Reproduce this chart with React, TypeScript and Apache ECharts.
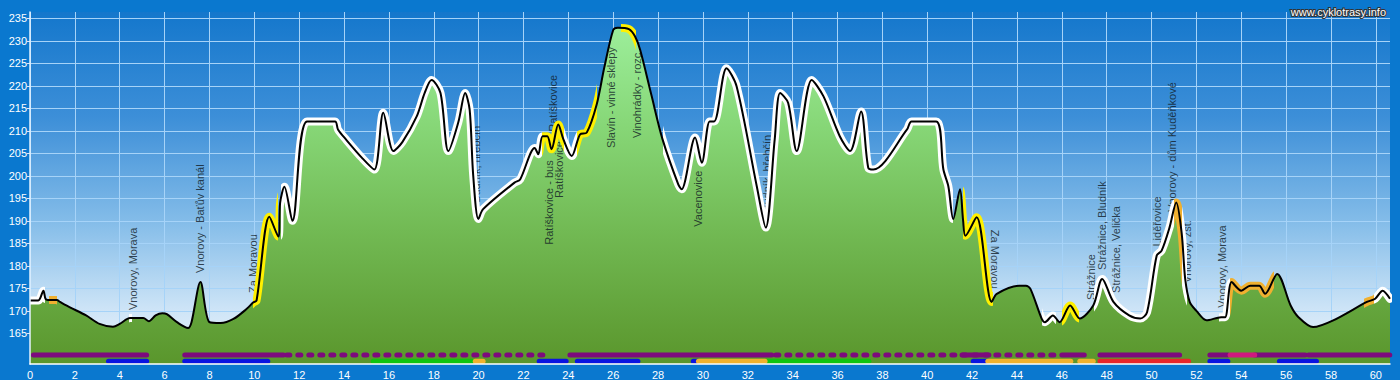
import React, { useEffect, useRef } from 'react';
import * as echarts from 'echarts';

// ---- profile (distance km, altitude m) ----
const profileKm = [
  0, 0.37, 0.6, 0.7, 0.9, 1.2, 1.34, 1.78, 2.5, 3.1, 3.7, 4.0, 4.46, 5.05, 5.3, 5.6, 5.9, 6.1, 6.55, 7.05,
  7.2, 7.6, 8.0, 8.5, 9.07, 9.65, 9.96, 10.1, 10.67, 11.07, 11.15, 11.34, 11.7, 12.35, 13.6, 13.73, 14.1, 14.8, 15.35, 15.75,
  16.2, 16.6, 17.24, 17.6, 17.9, 18.3, 18.65, 19.1, 19.4, 19.6, 19.76, 19.99, 20.2, 21.6, 21.85, 22.5, 22.66, 22.85, 23.06, 23.25,
  23.55, 23.78, 24.15, 24.52, 24.82, 25.26, 25.6, 26.0, 26.2, 26.7, 26.97, 27.2, 27.7, 28.2, 28.9, 29.05, 29.65, 29.95, 30.3, 30.5,
  31.05, 31.5, 32.4, 32.8, 33.2, 33.44, 33.8, 34.18, 34.85, 35.37, 36.1, 36.56, 37.05, 37.37, 37.6, 39.1, 39.3, 40.4, 40.72, 40.94,
  41.16, 41.46, 41.6, 41.7, 42.2, 42.87, 43.1, 44.1, 44.4, 44.6, 45.1, 45.25, 45.6, 45.9, 46.37, 46.8, 47.4, 47.8, 48.3, 49.0,
  49.5, 49.8, 50.23, 50.45, 50.8, 51.1, 51.34, 51.5, 51.7, 52.0, 52.45, 53.1, 53.28, 53.57, 54.0, 54.4, 54.8, 55.06, 55.6, 56.2,
  56.55, 57.2, 58.1, 59.6, 59.97, 60.3, 60.63,
];
const profileAlt = [
  172.3, 172.3, 174.5, 172.6, 172.4, 172.4, 172.0, 170.8, 169.0, 167.1, 166.5, 167.1, 168.4, 168.4, 167.7, 169.0, 169.5, 169.3, 167.5, 166.2,
  167.5, 176.4, 167.5, 167.3, 168.2, 170.4, 171.9, 172.3, 190.9, 186.5, 194.0, 197.6, 190.0, 212.1, 212.1, 210.3, 208.0, 204.0, 201.4, 214.0,
  205.5, 207.5, 213.2, 218.5, 221.3, 218.4, 205.5, 212.0, 218.4, 214.7, 200.0, 190.4, 192.6, 198.5, 199.2, 206.2, 204.8, 208.8, 208.8, 205.9,
  211.4, 208.1, 204.4, 209.2, 209.6, 215.8, 224.0, 232.4, 232.9, 232.6, 231.0, 228.0, 218.0, 208.1, 198.1, 197.0, 208.5, 202.9, 212.1, 212.1,
  223.9, 219.9, 197.7, 188.5, 208.1, 218.4, 216.2, 205.5, 221.3, 217.7, 208.8, 205.5, 214.3, 201.8, 201.4, 210.3, 212.1, 212.1, 201.4, 197.7,
  190.4, 197.0, 190.0, 186.7, 190.8, 172.0, 173.8, 175.6, 175.6, 174.9, 168.3, 167.5, 169.0, 167.5, 171.2, 168.3, 171.2, 177.1, 172.0, 169.0,
  168.3, 169.7, 182.3, 183.4, 188.5, 194.1, 187.4, 177.1, 172.0, 170.0, 167.9, 168.6, 168.6, 176.4, 174.5, 175.6, 175.6, 173.8, 178.2, 171.2,
  168.6, 166.4, 167.9, 172.0, 172.7, 174.5, 172.7,
];

// ---- axis ticks ----
const yTicks = [165, 170, 175, 180, 185, 190, 195, 200, 205, 210, 215, 220, 225, 230, 235];
const xTicks = [0, 2, 4, 6, 8, 10, 12, 14, 16, 18, 20, 22, 24, 26, 28, 30, 32, 34, 36, 38, 40, 42, 44, 46, 48, 50, 52, 54, 56, 58, 60];

// ---- highlighted stretches of the profile (km from, km to) ----
const whiteStretches = [[0, 0.68], [4.4, 4.56], [11.2, 22.83], [23.8, 24.4], [28.2, 41.16], [45.12, 45.75], [47.42, 51.0], [51.35, 51.56], [53.0, 53.5], [59.9, 60.7]];
const yellowStretches = [[9.95, 11.07], [22.83, 23.8], [24.4, 25.3], [26.35, 27.0], [41.6, 42.95], [46.0, 46.78]];
const orangeStretches = [[0.86, 1.22], [51.0, 51.35], [53.5, 55.45], [59.45, 59.9]];

// ---- waypoints ----
const waypointKm = [4.6, 7.58, 9.92, 19.9, 23.15, 23.6, 23.3, 25.9, 27.06, 29.8, 32.85, 43.0, 47.3, 47.8, 48.4, 50.25, 50.9, 51.6, 53.15];
const waypointNames = [
  'Vnorovy, Morava', 'Vnorovy - Baťův kanál', 'Za Moravou', 'Budník, hřebčín', 'Ratíškovice - bus', 'Ratíškovice', 'Ratíškovice',
  'Slavín - vinné sklepy', 'Vinohrádky - rozc', 'Vacenovice', 'Budník, hřebčín', 'Za Moravou', 'Strážnice', 'Strážnice, Bludník',
  'Strážnice, Velička', 'Liděřovice', 'Vnorovy - dům Kuděňkové', 'Vnorovy, zšt.', 'Vnorovy, Morava',
];

// ---- route type bars (km from, km to) ----
const purpleBars = [[0.15, 5.2], [6.9, 11.3], [24.07, 33.07], [41.55, 42.75], [46.0, 47.0], [47.7, 51.25], [52.6, 53.4], [54.6, 56.85], [57.0, 60.62]];
const purpleDotted = [[11.45, 23.0], [33.25, 45.85]];
const magentaBars = [[53.5, 54.6]];
const blueBars = [[3.5, 5.2], [6.9, 10.6], [22.7, 23.9], [24.4, 27.1], [29.57, 29.8], [42.05, 42.7], [52.6, 53.4], [55.7, 57.35]];
const greenBars = [[15.3, 19.7], [32.8, 37.4]];
const orangeBars = [[19.85, 20.2], [29.8, 32.77], [42.7, 46.4], [46.8, 47.4]];
const redBars = [[47.7, 51.65]];

// ---- layout (label anchors / rotations, bar rows) ----
const waypointAnchor = [170.2, 178.4, 174.0, 194.0, 184.7, 195.1, 209.8, 206.2, 208.4, 188.7, 192.0, 188.0, 172.4, 179.1, 174.0, 184.3, 192.0, 176.2, 170.7];
const waypointRotate = [90, 90, 90, 90, 90, 90, 90, 90, 90, 90, 90, -90, 90, 90, 90, 90, 90, 90, 90];
const ROW1 = 160.2;
const ROW2 = 158.8;
const Y_MIN = 158.2;
const Y_MAX = 236.4;
const X_MAX = 60.63;

const FONT = 'Arial, "Liberation Sans", sans-serif';
const barColors = ['#7d0a7d', '#d0187e', '#0a14e0', '#10c410', '#f0b22e', '#e8262a'];

export default function App() {
  const ref = useRef<HTMLDivElement>(null);

  useEffect(() => {
    document.body.style.margin = '0';
    const chart = echarts.init(ref.current!, null, { renderer: 'svg' });

    const profile = profileKm.map((k, i) => [k, profileAlt[i]]);

    const pieces: any[] = [];
    whiteStretches.forEach(([s, e]) => pieces.push({ gte: s, lt: e, color: '#ffffff' }));
    yellowStretches.forEach(([s, e]) => pieces.push({ gte: s, lt: e, color: '#fff000' }));
    orangeStretches.forEach(([s, e]) => pieces.push({ gte: s, lt: e, color: '#f0b030' }));
    pieces.sort((a, b) => a.gte - b.gte);

    const barItems: number[][] = [];
    const add = (list: number[][], row: number, c: number, dotted: number) =>
      list.forEach(([s, e]) => barItems.push([s, e, row, c, dotted]));
    add(purpleDotted, ROW1, 0, 1);
    add(purpleBars, ROW1, 0, 0);
    add(magentaBars, ROW1, 1, 0);
    add(blueBars, ROW2, 2, 0);
    add(greenBars, ROW2, 3, 0);
    add(orangeBars, ROW2, 4, 0);
    add(redBars, ROW2, 5, 0);

    const labelData = waypointKm.map((k, i) => ({
      value: [k, waypointAnchor[i]],
      name: waypointNames[i],
      label: { rotate: waypointRotate[i] },
    }));

    const gridBg = new echarts.graphic.LinearGradient(0, 0, 0, 1, [
      { offset: 0, color: '#1477cc' },
      { offset: 0.3, color: '#3d8fd8' },
      { offset: 0.6, color: '#85bde9' },
      { offset: 0.85, color: '#cfe5f7' },
      { offset: 1, color: '#eef6fd' },
    ]);
    const greenFill = new echarts.graphic.LinearGradient(0, 0, 0, 1, [
      { offset: 0, color: '#9cee9a' },
      { offset: 0.3, color: '#86d676' },
      { offset: 0.6, color: '#72ba54' },
      { offset: 1, color: '#5a962c' },
    ]);

    const option: any = {
      animation: false,
      backgroundColor: '#0a78cf',
      title: {
        text: 'www.cyklotrasy.info',
        right: 7,
        top: 1,
        textStyle: { color: '#ffffff', fontSize: 11, fontWeight: 'normal', fontFamily: FONT, textBorderColor: '#333', textBorderWidth: 2 },
      },
      grid: { left: 30, right: 10, top: 12, bottom: 16, show: true, borderWidth: 0, backgroundColor: gridBg },
      xAxis: [
        {
          type: 'value', min: 0, max: X_MAX,
          axisLine: { show: false },
          axisTick: { show: false, customValues: xTicks },
          axisLabel: { customValues: xTicks, color: '#ffffff', fontSize: 11, fontFamily: FONT, margin: 5 },
          splitLine: { show: true, lineStyle: { color: '#a6d3f8', width: 1 } },
        },
        {
          type: 'value', min: 0, max: X_MAX, position: 'bottom', z: 20,
          axisLine: { show: true, lineStyle: { color: '#ffffff', width: 1.5 } },
          axisTick: { show: false }, axisLabel: { show: false }, splitLine: { show: false },
        },
      ],
      yAxis: [
        {
          type: 'value', min: Y_MIN, max: Y_MAX,
          axisLine: { show: false },
          axisTick: { show: true, length: 3, customValues: yTicks, lineStyle: { color: '#cfe8ff' } },
          axisLabel: { customValues: yTicks, color: '#ffffff', fontSize: 11, fontFamily: FONT, margin: 3 },
          splitLine: { show: true, lineStyle: { color: '#a6d3f8', width: 1 } },
        },
        {
          type: 'value', min: Y_MIN, max: Y_MAX, position: 'left', z: 20,
          axisLine: { show: true, lineStyle: { color: '#e6f3ff', width: 1.5 } },
          axisTick: { show: false }, axisLabel: { show: false }, splitLine: { show: false },
        },
      ],
      visualMap: [
        {
          type: 'piecewise', show: false, dimension: 0, seriesIndex: 3,
          pieces, outOfRange: { color: 'rgba(255,255,255,0)' },
        },
      ],
      series: [
        {
          type: 'line', z: 1, data: profile, smooth: 0.3, showSymbol: false, symbol: 'none',
          lineStyle: { width: 0, opacity: 0 }, areaStyle: { color: greenFill, opacity: 1 }, silent: true,
        },
        {
          type: 'scatter', z: 2, data: labelData, symbolSize: 1, itemStyle: { color: 'rgba(0,0,0,0)' }, silent: true,
          label: {
            show: true, formatter: '{b}', position: 'inside', align: 'left', verticalAlign: 'middle',
            color: '#101a24', fontSize: 11, fontFamily: FONT,
          },
          labelLayout: { hideOverlap: false },
        },
        {
          type: 'custom', z: 2, data: barItems, encode: { x: [0, 1], y: 2 }, silent: true,
          renderItem: (params: any, api: any) => {
            const p1 = api.coord([api.value(0), api.value(2)]);
            const p2 = api.coord([api.value(1), api.value(2)]);
            const dotted = api.value(4) === 1;
            return {
              type: 'line',
              shape: { x1: p1[0], y1: p1[1], x2: p2[0], y2: p2[1] },
              style: { stroke: barColors[api.value(3)], lineWidth: 5, lineCap: 'round', lineDash: dotted ? [3, 8] : null },
            };
          },
        },
        {
          type: 'line', z: 3, data: profile, smooth: 0.3, showSymbol: false, symbol: 'none', silent: true,
          lineStyle: { width: 8, cap: 'round', join: 'round' },
        },
        {
          type: 'line', z: 4, data: profile, smooth: 0.3, showSymbol: false, symbol: 'none', silent: true,
          lineStyle: { width: 2, color: '#000000', join: 'round' },
        },
      ],
    };

    chart.setOption(option);
    return () => chart.dispose();
  }, []);

  return <div ref={ref} style={{ width: 1400, height: 380 }} />;
}
